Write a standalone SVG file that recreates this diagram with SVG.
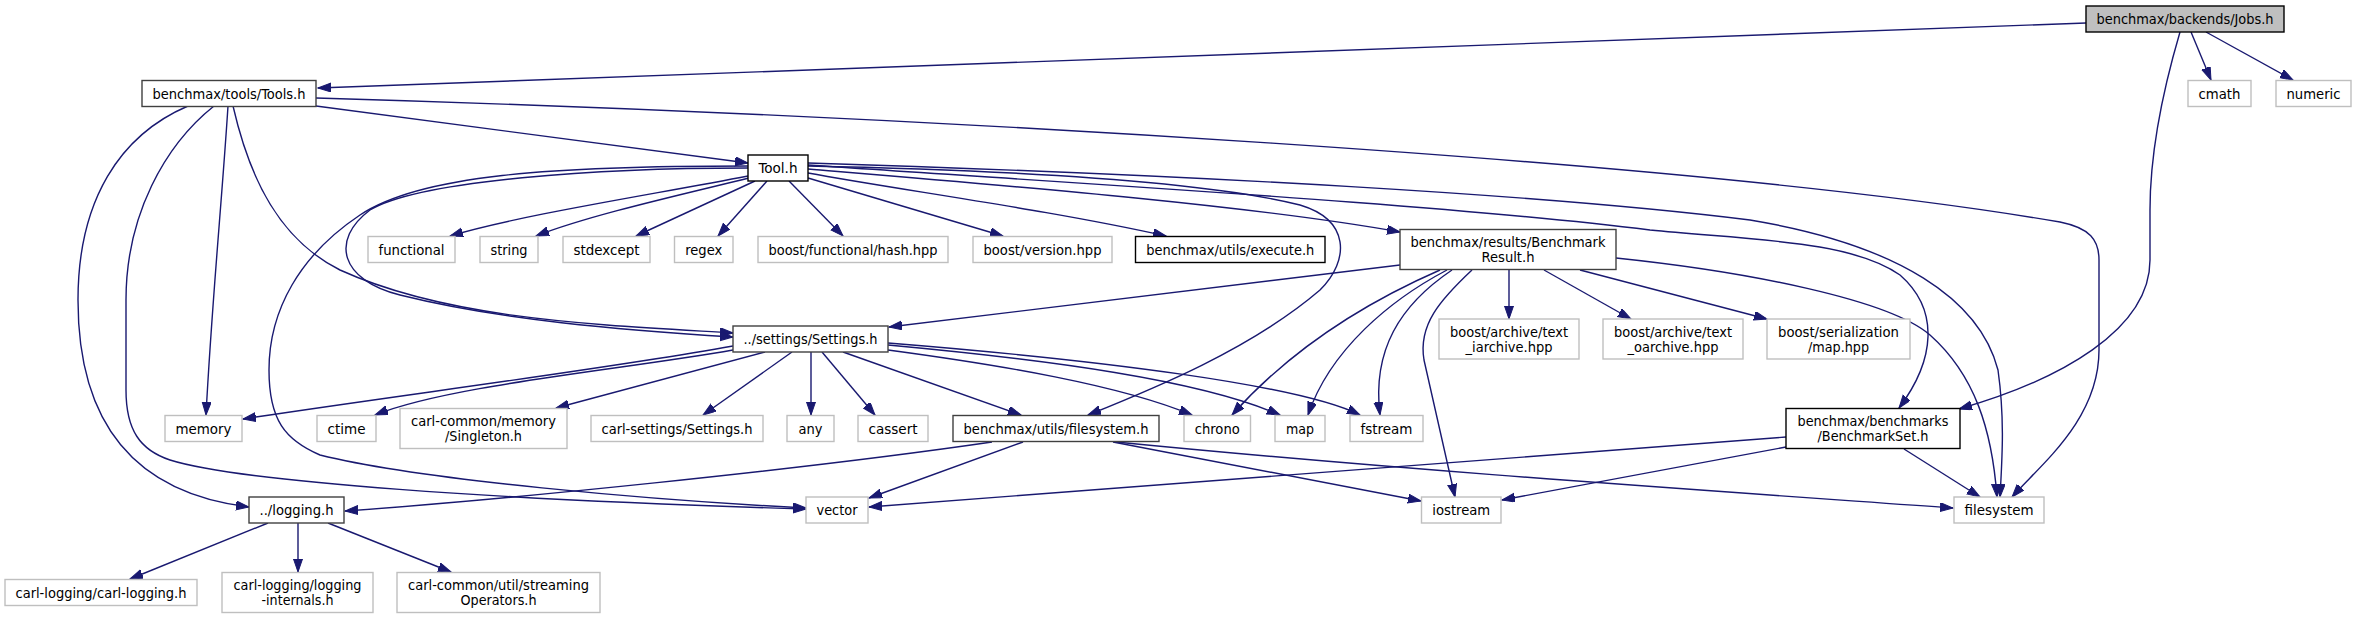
<svg xmlns="http://www.w3.org/2000/svg" width="2356" height="619" viewBox="0 0 2356 619">
<style>
.n rect{fill:#fff;stroke-width:1.4}
.ext rect{stroke:#bfbfbf}
.doc rect{stroke:#404040}
.blk rect{stroke:#000}
.root rect{fill:#bfbfbf;stroke:#000}
text{font-family:"DejaVu Sans Condensed","Liberation Sans Narrow","DejaVu Sans",sans-serif;font-stretch:condensed;font-size:13.3px;fill:#000;text-anchor:middle}
#edges path{fill:none;stroke:#191970;stroke-width:1.4;marker-end:url(#ah)}
</style>
<defs>
<marker id="ah" markerUnits="userSpaceOnUse" markerWidth="14" markerHeight="10" refX="13" refY="4.5" orient="auto"><path d="M0,0 L13,4.5 L0,9 z" fill="#191970" stroke="#191970" stroke-width="1"/></marker>
</defs>
<rect width="2356" height="619" fill="#fff"/>
<g id="edges">
<path d="M2086,23 L318,88"/>
<path d="M2191,32 L2211,80"/>
<path d="M2206,32 L2293,80"/>
<path d="M2180,32 C2160,100 2150,160 2150,210 L2150,260 C2150,330 2060,380 1959,409"/>
<path d="M316,106 L748,163"/>
<path d="M316,98 C900,115 1700,160 2060,222 C2090,228 2099,240 2099,260 L2099,350 C2099,420 2040,465 2012,497"/>
<path d="M228,106 C222,200 212,300 206,415"/>
<path d="M188,106 C120,135 78,200 78,300 C78,440 150,495 249,507"/>
<path d="M214,106 C165,145 126,215 126,300 L126,390 C126,430 140,450 170,460 C240,482 500,500 806,509"/>
<path d="M233,106 C250,180 280,240 340,270 C450,320 600,325 733,333"/>
<path d="M748,168 C600,168 420,180 370,210 C330,240 340,280 400,295 C500,320 620,330 733,337"/>
<path d="M748,166 C550,166 420,175 360,215 C300,255 269,310 269,370 C269,420 285,440 320,455 C420,480 650,500 806,508"/>
<path d="M748,176 C650,195 520,215 450,236"/>
<path d="M749,178 C680,195 590,215 536,236"/>
<path d="M755,181 L636,236"/>
<path d="M767,181 L718,236"/>
<path d="M789,181 L843,236"/>
<path d="M808,178 L1003,236"/>
<path d="M808,173 C900,190 1050,210 1166,236"/>
<path d="M808,169 C1000,185 1250,205 1400,232"/>
<path d="M808,166 C1000,170 1200,180 1300,205 C1350,220 1350,260 1320,290 C1250,350 1150,390 1088,415"/>
<path d="M808,165 C1100,185 1450,205 1650,230 C1750,240 1850,240 1900,275 C1940,310 1935,360 1899,408"/>
<path d="M808,163 C1200,175 1550,195 1750,220 C1900,245 1980,300 1998,370 C2005,420 2002,460 2000,497"/>
<path d="M1400,265 L889,327"/>
<path d="M1509,270 L1509,319"/>
<path d="M1544,270 L1631,319"/>
<path d="M1580,270 L1767,319"/>
<path d="M1616,258 C1750,272 1890,300 1930,335 C1975,375 1992,430 1997,497"/>
<path d="M1440,270 C1360,305 1290,350 1232,415"/>
<path d="M1447,270 C1390,300 1330,350 1308,415"/>
<path d="M1452,270 C1400,305 1372,350 1380,415"/>
<path d="M1472,270 C1440,300 1418,325 1424,360 L1455,497"/>
<path d="M733,346 C600,370 400,395 243,419"/>
<path d="M733,350 C620,370 450,385 375,415"/>
<path d="M765,352 L556,408"/>
<path d="M792,352 L703,415"/>
<path d="M811,352 L811,415"/>
<path d="M822,352 L875,415"/>
<path d="M843,352 L1021,415"/>
<path d="M888,350 C1000,365 1120,385 1192,415"/>
<path d="M888,345 C1050,360 1200,380 1280,415"/>
<path d="M888,343 C1100,360 1300,385 1360,415"/>
<path d="M992,442 C800,470 500,500 345,511"/>
<path d="M1023,442 L869,498"/>
<path d="M1113,442 L1421,501"/>
<path d="M1116,442 C1400,470 1700,490 1953,508"/>
<path d="M1786,437 L869,507"/>
<path d="M1786,447 L1502,500"/>
<path d="M1904,449 L1980,497"/>
<path d="M268,523 L130,579"/>
<path d="M298,523 L298,572"/>
<path d="M328,523 L451,572"/>
</g>
<g id="jobs" class="n root"><rect x="2086" y="6" width="198" height="26"/><text x="2185" y="24" textLength="177" lengthAdjust="spacingAndGlyphs">benchmax/backends/Jobs.h</text></g>
<g id="tools" class="n doc"><rect x="142" y="80.5" width="174" height="26"/><text x="229" y="98.5" textLength="153" lengthAdjust="spacingAndGlyphs">benchmax/tools/Tools.h</text></g>
<g id="cmath" class="n ext"><rect x="2188" y="80.5" width="63" height="26"/><text x="2219.5" y="98.5" textLength="42" lengthAdjust="spacingAndGlyphs">cmath</text></g>
<g id="numeric" class="n ext"><rect x="2276" y="80.5" width="75" height="26"/><text x="2313.5" y="98.5" textLength="54" lengthAdjust="spacingAndGlyphs">numeric</text></g>
<g id="tool" class="n blk"><rect x="748" y="155" width="60" height="26"/><text x="778" y="173" textLength="39" lengthAdjust="spacingAndGlyphs">Tool.h</text></g>
<g id="functional" class="n ext"><rect x="368" y="236.5" width="87" height="26"/><text x="411.5" y="254.5" textLength="66" lengthAdjust="spacingAndGlyphs">functional</text></g>
<g id="string" class="n ext"><rect x="480" y="236.5" width="58" height="26"/><text x="509" y="254.5" textLength="37" lengthAdjust="spacingAndGlyphs">string</text></g>
<g id="stdexcept" class="n ext"><rect x="563" y="236.5" width="87" height="26"/><text x="606.5" y="254.5" textLength="66" lengthAdjust="spacingAndGlyphs">stdexcept</text></g>
<g id="regex" class="n ext"><rect x="674.5" y="236.5" width="58.5" height="26"/><text x="703.75" y="254.5" textLength="37" lengthAdjust="spacingAndGlyphs">regex</text></g>
<g id="hash" class="n ext"><rect x="758" y="236.5" width="190" height="26"/><text x="853" y="254.5" textLength="169" lengthAdjust="spacingAndGlyphs">boost/functional/hash.hpp</text></g>
<g id="version" class="n ext"><rect x="973" y="236.5" width="139" height="26"/><text x="1042.5" y="254.5" textLength="118" lengthAdjust="spacingAndGlyphs">boost/version.hpp</text></g>
<g id="execute" class="n blk"><rect x="1135.5" y="236.5" width="189.5" height="26"/><text x="1230.25" y="254.5" textLength="168" lengthAdjust="spacingAndGlyphs">benchmax/utils/execute.h</text></g>
<g id="result" class="n doc"><rect x="1400" y="229.5" width="216" height="40"/><text x="1508" y="247" textLength="195" lengthAdjust="spacingAndGlyphs">benchmax/results/Benchmark</text><text x="1508" y="262" textLength="53" lengthAdjust="spacingAndGlyphs">Result.h</text></g>
<g id="iarchive" class="n ext"><rect x="1439" y="319" width="140" height="40"/><text x="1509" y="336.5" textLength="118" lengthAdjust="spacingAndGlyphs">boost/archive/text</text><text x="1509" y="351.5" textLength="87" lengthAdjust="spacingAndGlyphs">_iarchive.hpp</text></g>
<g id="oarchive" class="n ext"><rect x="1603" y="319" width="140" height="40"/><text x="1673" y="336.5" textLength="118" lengthAdjust="spacingAndGlyphs">boost/archive/text</text><text x="1673" y="351.5" textLength="91" lengthAdjust="spacingAndGlyphs">_oarchive.hpp</text></g>
<g id="sermap" class="n ext"><rect x="1767" y="319" width="143" height="40"/><text x="1838.5" y="336.5" textLength="121" lengthAdjust="spacingAndGlyphs">boost/serialization</text><text x="1838.5" y="351.5" textLength="61" lengthAdjust="spacingAndGlyphs">/map.hpp</text></g>
<g id="settings" class="n doc"><rect x="733" y="326" width="155" height="26"/><text x="810.5" y="344" textLength="134" lengthAdjust="spacingAndGlyphs">../settings/Settings.h</text></g>
<g id="memory" class="n ext"><rect x="165" y="415.5" width="77" height="26"/><text x="203.5" y="433.5" textLength="56" lengthAdjust="spacingAndGlyphs">memory</text></g>
<g id="ctime" class="n ext"><rect x="317" y="415.5" width="59" height="26"/><text x="346.5" y="433.5" textLength="38" lengthAdjust="spacingAndGlyphs">ctime</text></g>
<g id="singleton" class="n ext"><rect x="400" y="408.5" width="167" height="40"/><text x="483.5" y="426" textLength="145" lengthAdjust="spacingAndGlyphs">carl-common/memory</text><text x="483.5" y="441" textLength="77" lengthAdjust="spacingAndGlyphs">/Singleton.h</text></g>
<g id="carlsettings" class="n ext"><rect x="591" y="415.5" width="172" height="26"/><text x="677" y="433.5" textLength="151" lengthAdjust="spacingAndGlyphs">carl-settings/Settings.h</text></g>
<g id="any" class="n ext"><rect x="787" y="415.5" width="47" height="26"/><text x="810.5" y="433.5" textLength="24" lengthAdjust="spacingAndGlyphs">any</text></g>
<g id="cassert" class="n ext"><rect x="858" y="415.5" width="70" height="26"/><text x="893" y="433.5" textLength="49" lengthAdjust="spacingAndGlyphs">cassert</text></g>
<g id="fsh" class="n doc"><rect x="953" y="415.5" width="206" height="26"/><text x="1056" y="433.5" textLength="185" lengthAdjust="spacingAndGlyphs">benchmax/utils/filesystem.h</text></g>
<g id="chrono" class="n ext"><rect x="1184" y="415.5" width="66.5" height="26"/><text x="1217.25" y="433.5" textLength="45" lengthAdjust="spacingAndGlyphs">chrono</text></g>
<g id="map" class="n ext"><rect x="1275" y="415.5" width="50" height="26"/><text x="1300" y="433.5" textLength="28" lengthAdjust="spacingAndGlyphs">map</text></g>
<g id="fstream" class="n ext"><rect x="1350" y="415.5" width="73" height="26"/><text x="1386.5" y="433.5" textLength="52" lengthAdjust="spacingAndGlyphs">fstream</text></g>
<g id="bset" class="n blk"><rect x="1786" y="408.5" width="174" height="40"/><text x="1873" y="426" textLength="151" lengthAdjust="spacingAndGlyphs">benchmax/benchmarks</text><text x="1873" y="441" textLength="111" lengthAdjust="spacingAndGlyphs">/BenchmarkSet.h</text></g>
<g id="logging" class="n doc"><rect x="249" y="497" width="95" height="26"/><text x="296.5" y="515" textLength="74" lengthAdjust="spacingAndGlyphs">../logging.h</text></g>
<g id="vector" class="n ext"><rect x="806" y="497" width="62" height="26"/><text x="837" y="515" textLength="41" lengthAdjust="spacingAndGlyphs">vector</text></g>
<g id="iostream" class="n ext"><rect x="1421.5" y="497" width="79.5" height="26"/><text x="1461.25" y="515" textLength="58" lengthAdjust="spacingAndGlyphs">iostream</text></g>
<g id="filesystem" class="n ext"><rect x="1954" y="497" width="90" height="26"/><text x="1999" y="515" textLength="69" lengthAdjust="spacingAndGlyphs">filesystem</text></g>
<g id="carllogging" class="n ext"><rect x="5" y="579.5" width="192" height="26"/><text x="101" y="597.5" textLength="171" lengthAdjust="spacingAndGlyphs">carl-logging/carl-logging.h</text></g>
<g id="internals" class="n ext"><rect x="222" y="572.5" width="151" height="40"/><text x="297.5" y="590" textLength="128" lengthAdjust="spacingAndGlyphs">carl-logging/logging</text><text x="297.5" y="605" textLength="72" lengthAdjust="spacingAndGlyphs">-internals.h</text></g>
<g id="streaming" class="n ext"><rect x="397" y="572.5" width="203" height="40"/><text x="498.5" y="590" textLength="181" lengthAdjust="spacingAndGlyphs">carl-common/util/streaming</text><text x="498.5" y="605" textLength="76" lengthAdjust="spacingAndGlyphs">Operators.h</text></g>
</svg>
